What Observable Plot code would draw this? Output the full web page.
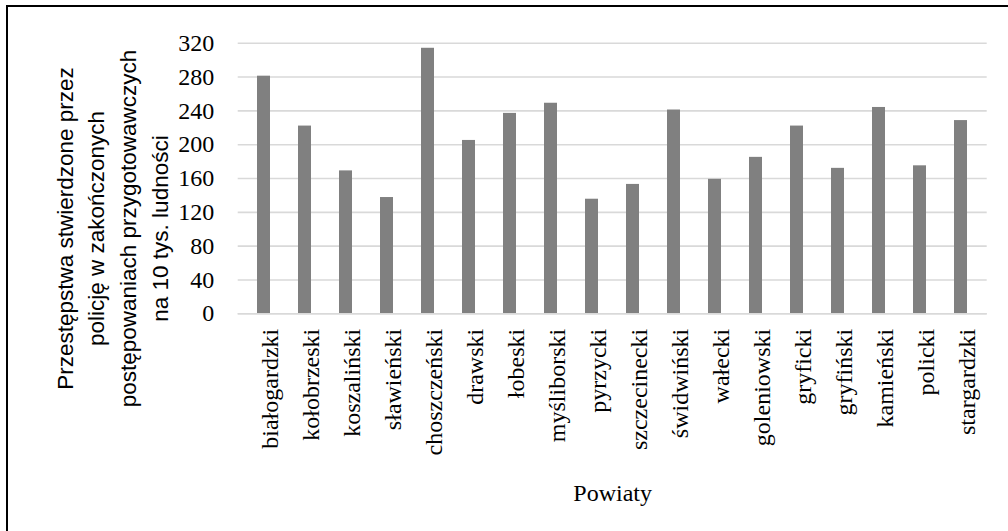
<!DOCTYPE html>
<html>
<head>
<meta charset="utf-8">
<script src="https://cdn.jsdelivr.net/npm/d3@7"></script>
<script src="https://cdn.jsdelivr.net/npm/@observablehq/plot@0.6"></script>
<style>
  html, body { margin: 0; padding: 0; background: #fff; overflow: hidden; }
  #wrap { position: relative; width: 1008px; height: 531px; overflow: hidden; }
  #frame { position: absolute; left: 6px; top: 5px; width: 1010px; height: 540px; border: 2px solid #000; box-sizing: border-box; pointer-events: none; }
  #chart { position: absolute; left: 0; top: 0; }
</style>
</head>
<body>
<div id="wrap"><div id="chart"></div><div id="frame"></div></div>
<script>
const powiaty = ["białogardzki","kołobrzeski","koszaliński","sławieński","choszczeński","drawski","łobeski","myśliborski","pyrzycki","szczecinecki","świdwiński","wałecki","goleniowski","gryficki","gryfiński","kamieński","policki","stargardzki"];
const wartosci = [281,222,169,137.5,314,205,237,249,135.5,153,241,159,185,222,172,244,175,228.5];
const yTicks = [0,40,80,120,160,200,240,280,320];
const yTitle = "Przestępstwa stwierdzone przez\npolicję w zakończonych\npostępowaniach przygotowawczych\nna 10 tys. ludności";
const xTitle = "Powiaty";

const data = powiaty.map((p, i) => ({powiat: p, value: wartosci[i]}));
const serif = "'Liberation Serif', 'Times New Roman', serif";
const sans = "'Liberation Sans', Arial, sans-serif";

const chart = Plot.plot({
  width: 1008,
  height: 531,
  marginLeft: 237.7,
  marginRight: 21.3,
  marginTop: 42.7,
  marginBottom: 217.7,
  style: {background: "transparent", color: "#000", overflow: "visible"},
  x: {domain: powiaty, paddingInner: 0.69, paddingOuter: 0.345, label: null},
  y: {domain: [0, 320], label: null},
  marks: [
    Plot.gridY(yTicks, {stroke: "#d9d9d9", strokeOpacity: 1, strokeWidth: 1.6}),
    Plot.barY(data, {x: "powiat", y: "value", fill: "#808080"}),
    Plot.ruleY([0], {stroke: "#d9d9d9", strokeWidth: 1.6}),
    Plot.axisY(yTicks, {tickSize: 0, tickPadding: 24, fontSize: 24, fontFamily: serif, label: null, fill: "#000"}),
    Plot.axisX({tickSize: 0, tickPadding: 15, tickRotate: -90, fontSize: 24, fontFamily: serif, label: null, fill: "#000", dx: 6}),
    Plot.text([xTitle], {frameAnchor: "bottom", dy: 187, fontSize: 24, fontFamily: serif, fill: "#000", lineAnchor: "bottom"}),
    Plot.text([yTitle], {frameAnchor: "left", rotate: -90, dx: -128, dy: 50, fontSize: 22.5, fontFamily: sans, lineHeight: 1.42, fill: "#000", textAnchor: "middle", lineAnchor: "middle"})
  ]
});
document.getElementById("chart").appendChild(chart);
</script>
</body>
</html>
